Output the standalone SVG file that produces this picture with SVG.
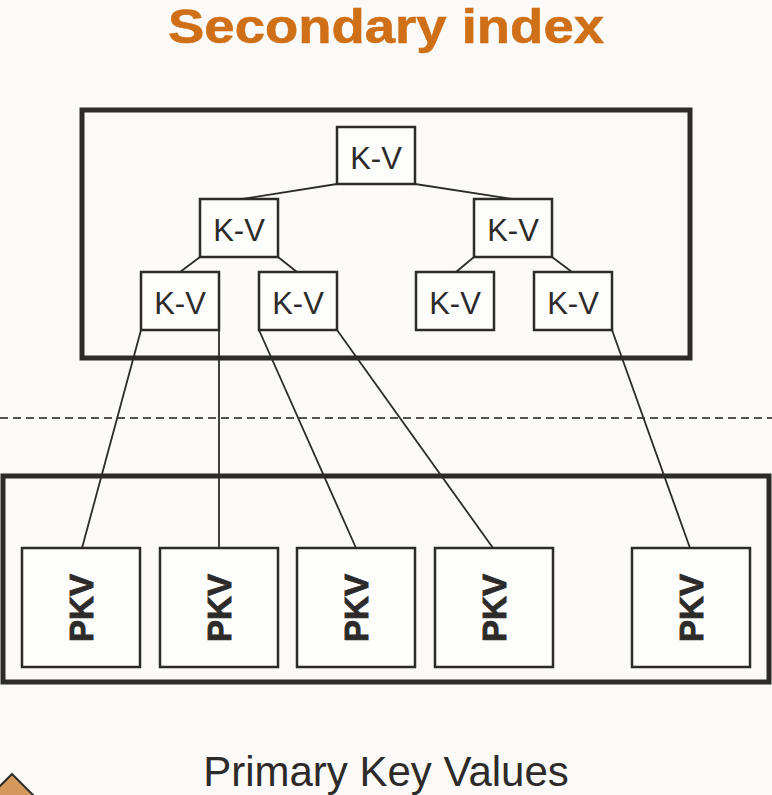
<svg xmlns="http://www.w3.org/2000/svg" width="772" height="795" viewBox="0 0 772 795">
  <style>
    .bg { fill: #fbfaf8; }
    .container { fill: #fbfaf8; stroke: #2d2b29; stroke-width: 5; }
    .node rect { fill: #fdfdfc; stroke: #2d2b29; stroke-width: 2.5; }
    .kv { font-family: "Liberation Sans", Arial, sans-serif; font-size: 31px; fill: #2d2b29; text-anchor: middle; }
    .pkv { font-family: "Liberation Sans", Arial, sans-serif; font-weight: bold; font-size: 33px; fill: #2d2b29; stroke: #2d2b29; stroke-width: 0.9; text-anchor: middle; }
    .edge { stroke: #2d2b29; stroke-width: 1.8; fill: none; }
    .divider { stroke: #555; stroke-width: 2; stroke-dasharray: 8 5; }
    .title { font-family: "Liberation Sans", Arial, sans-serif; font-weight: bold; font-size: 48px; fill: #cf6f17; stroke: #cf6f17; stroke-width: 0.6; text-anchor: middle; }
    .caption { font-family: "Liberation Sans", Arial, sans-serif; font-size: 42px; fill: #2d2b29; text-anchor: middle; }
  </style>

  <rect class="bg" x="0" y="0" width="772" height="795"/>

  <text class="title" x="386" y="43" textLength="436" lengthAdjust="spacingAndGlyphs">Secondary index</text>

  <!-- containers -->
  <g id="index-tree-frame">
    <rect class="container" x="82" y="110" width="608" height="248"/>
  </g>
  <line class="divider" x1="0" y1="418" x2="772" y2="418"/>
  <g id="pkv-frame">
    <rect class="container" x="3" y="476" width="766" height="206"/>
  </g>

  <!-- connectors -->
  <g id="connectors">
    <line class="edge" x1="337" y1="184" x2="242" y2="199"/>
    <line class="edge" x1="415" y1="184" x2="512" y2="199"/>
    <line class="edge" x1="200" y1="257" x2="180" y2="272"/>
    <line class="edge" x1="278" y1="257" x2="297" y2="272"/>
    <line class="edge" x1="474" y1="257" x2="456" y2="272"/>
    <line class="edge" x1="552" y1="257" x2="572" y2="272"/>
    <line class="edge" x1="141" y1="330" x2="82" y2="548"/>
    <line class="edge" x1="219" y1="330" x2="219" y2="548"/>
    <line class="edge" x1="259" y1="330" x2="356" y2="548"/>
    <line class="edge" x1="337" y1="330" x2="493" y2="548"/>
    <line class="edge" x1="612" y1="330" x2="690" y2="548"/>
  </g>

  <!-- B-tree nodes -->
  <g id="kv-root" class="node">
    <rect x="337" y="127" width="78" height="57"/>
    <text class="kv" x="376" y="169">K-V</text>
  </g>
  <g id="kv-l1" class="node">
    <rect x="200" y="199" width="78" height="58"/>
    <text class="kv" x="239" y="241">K-V</text>
  </g>
  <g id="kv-r1" class="node">
    <rect x="474" y="199" width="78" height="58"/>
    <text class="kv" x="513" y="241">K-V</text>
  </g>
  <g id="kv-ll" class="node">
    <rect x="141" y="272" width="78" height="58"/>
    <text class="kv" x="180" y="314">K-V</text>
  </g>
  <g id="kv-lr" class="node">
    <rect x="259" y="272" width="78" height="58"/>
    <text class="kv" x="298" y="314">K-V</text>
  </g>
  <g id="kv-rl" class="node">
    <rect x="416" y="272" width="78" height="58"/>
    <text class="kv" x="455" y="314">K-V</text>
  </g>
  <g id="kv-rr" class="node">
    <rect x="534" y="272" width="78" height="58"/>
    <text class="kv" x="573" y="314">K-V</text>
  </g>

  <!-- primary key value blocks -->
  <g id="pkv-1" class="node">
    <rect x="22" y="548" width="118" height="119"/>
    <text class="pkv" transform="translate(93 608) rotate(-90)">PKV</text>
  </g>
  <g id="pkv-2" class="node">
    <rect x="160" y="548" width="118" height="119"/>
    <text class="pkv" transform="translate(231 608) rotate(-90)">PKV</text>
  </g>
  <g id="pkv-3" class="node">
    <rect x="297" y="548" width="118" height="119"/>
    <text class="pkv" transform="translate(368 608) rotate(-90)">PKV</text>
  </g>
  <g id="pkv-4" class="node">
    <rect x="435" y="548" width="118" height="119"/>
    <text class="pkv" transform="translate(506 608) rotate(-90)">PKV</text>
  </g>
  <g id="pkv-5" class="node">
    <rect x="632" y="548" width="118" height="119"/>
    <text class="pkv" transform="translate(703 608) rotate(-90)">PKV</text>
  </g>

  <text class="caption" x="386" y="786">Primary Key Values</text>

  <!-- corner marker -->
  <polygon points="12,774 44,806 12,838 -20,806" fill="#d4995a" stroke="#2d2b29" stroke-width="2"/>
</svg>
